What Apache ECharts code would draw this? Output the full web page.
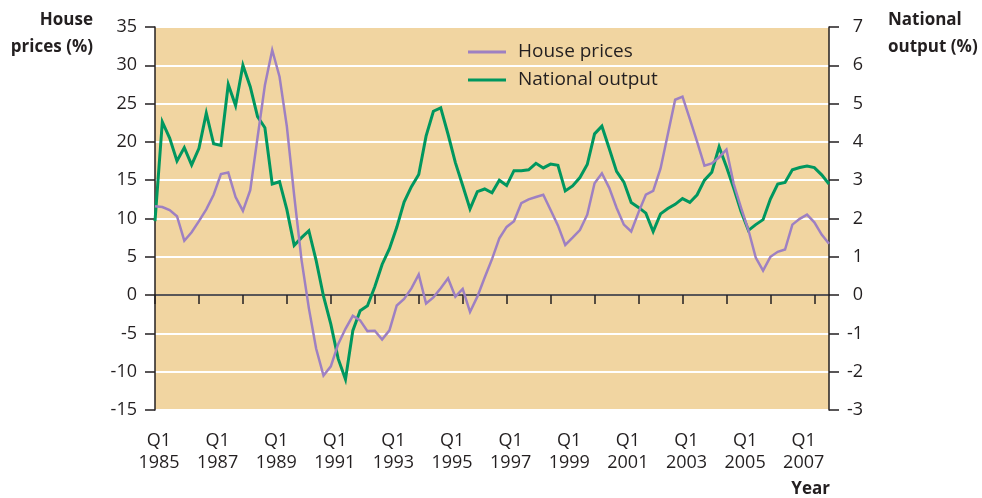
<!DOCTYPE html>
<html>
<head>
<meta charset="utf-8">
<title>House prices and national output</title>
<script src="https://cdn.jsdelivr.net/npm/echarts@6.0.0/dist/echarts.min.js"></script>
<style>
  html, body { margin: 0; padding: 0; background: #fff; }
  #main { width: 982px; height: 498px; }
</style>
</head>
<body>
<div id="main"></div>
<script>
// quarters Q1 1985 .. Q1 2008
var quarters = []
for (var y = 1985; y <= 2008; y++) {
  for (var q = 1; q <= 4; q++) {
    if (quarters.length < 93) quarters.push('Q' + q + ' ' + y)
  }
}

// annual % change, left axis
var housePrices = [
  11.6, 11.5, 11.1, 10.3, 7.1, 8.2, 9.65, 11.2, 13.1, 15.8,
  16.0, 12.8, 11.0, 13.7, 20.6, 27.4, 32.0, 28.5, 22.0, 13.0,
  4.6, -1.7, -7.0, -10.5, -9.3, -6.4, -4.4, -2.7, -3.3, -4.7,
  -4.65, -5.8, -4.6, -1.35, -0.5, 0.87, 2.7, -1.1, -0.3, 0.9,
  2.2, -0.2, 0.8, -2.2, -0.2, 2.3, 4.7, 7.4, 8.9, 9.65,
  12.0, 12.5, 12.8, 13.1, 11.1, 9.1, 6.55, 7.5, 8.5, 10.5,
  14.6, 15.9, 14.0, 11.4, 9.2, 8.3, 10.8, 13.1, 13.6, 16.5,
  21.0, 25.5, 25.9, 23.0, 20.0, 16.9, 17.2, 18.0, 19.0, 14.5,
  11.4, 8.5, 4.9, 3.2, 5.0, 5.65, 5.95, 9.2, 9.95, 10.5,
  9.5, 7.9, 6.7
]

// annual % change, right axis
var nationalOutput = [
  1.93, 4.52, 4.1, 3.5, 3.85, 3.4, 3.83, 4.75, 3.95, 3.91,
  5.5, 4.95, 6.0, 5.44, 4.66, 4.37, 2.9, 2.96, 2.23, 1.3,
  1.5, 1.68, 0.9, -0.03, -0.76, -1.66, -2.2, -0.93, -0.41, -0.28,
  0.22, 0.8, 1.21, 1.77, 2.43, 2.83, 3.15, 4.15, 4.8, 4.89,
  4.2, 3.46, 2.86, 2.25, 2.7, 2.77, 2.67, 3.0, 2.86, 3.25,
  3.25, 3.27, 3.44, 3.32, 3.42, 3.39, 2.72, 2.85, 3.07, 3.41,
  4.21, 4.41, 3.83, 3.23, 2.95, 2.42, 2.29, 2.14, 1.66, 2.12,
  2.26, 2.37, 2.52, 2.42, 2.62, 3.0, 3.21, 3.87, 3.35, 2.79,
  2.18, 1.69, 1.84, 1.97, 2.51, 2.9, 2.94, 3.27, 3.33, 3.37,
  3.33, 3.14, 2.9
]

var leftTicks = { min: -15, max: 35, step: 5 }
var rightTicks = { min: -3, max: 7, step: 1 }

var ink = '#231F20'
var font = '"Open Sans", "DejaVu Sans", sans-serif'

var myChart = echarts.init(document.getElementById('main'), null, { renderer: 'canvas' })

var option = {
  animation: false,
  textStyle: { fontFamily: font },
  grid: {
    left: 155,
    right: 153,
    top: 27,
    bottom: 88,
    containLabel: false,
    outerBoundsMode: 'none',
    show: true,
    backgroundColor: '#F1D5A1',
    borderWidth: 0
  },
  legend: {
    orient: 'vertical',
    left: 468,
    top: 41,
    padding: 0,
    icon: 'rect',
    itemWidth: 38,
    itemHeight: 3,
    itemGap: 6,
    data: ['House prices', 'National output'],
    textStyle: { fontSize: 19, lineHeight: 22, color: ink, fontFamily: font, padding: [0, 0, 0, 7] }
  },
  xAxis: [
    {
      // labels along the bottom
      type: 'category',
      data: quarters,
      boundaryGap: false,
      position: 'bottom',
      axisLine: { show: false, onZero: false },
      axisTick: { show: false },
      splitLine: { show: false },
      axisLabel: {
        interval: function (idx) { return idx % 8 === 0 },
        formatter: function (v) { return v.replace(' ', '\n') },
        margin: 20,
        fontSize: 18,
        lineHeight: 22,
        color: ink,
        padding: [0, 0, 0, 8]
      }
    },
    {
      // the line through zero with its ticks
      type: 'category',
      data: quarters,
      boundaryGap: false,
      position: 'bottom',
      axisLine: { show: true, onZero: true, onZeroAxisIndex: 0, lineStyle: { color: ink, width: 1.5 } },
      axisTick: { show: true, interval: 5, length: 9, lineStyle: { color: ink, width: 1.5 } },
      axisLabel: { show: false },
      splitLine: { show: false }
    }
  ],
  yAxis: [
    {
      type: 'value',
      min: leftTicks.min,
      max: leftTicks.max,
      interval: leftTicks.step,
      position: 'left',
      axisLine: { show: true, onZero: false, lineStyle: { color: ink, width: 1.5 } },
      axisTick: { show: true, length: 10, lineStyle: { color: ink, width: 1.5 } },
      axisLabel: { margin: 18, fontSize: 18, color: ink },
      splitLine: { show: true, lineStyle: { color: '#ffffff', width: 2 } }
    },
    {
      type: 'value',
      min: rightTicks.min,
      max: rightTicks.max,
      interval: rightTicks.step,
      position: 'right',
      axisLine: { show: true, onZero: false, lineStyle: { color: ink, width: 1.5 } },
      axisTick: { show: true, length: 10, lineStyle: { color: ink, width: 1.5 } },
      axisLabel: { margin: 34, align: 'right', fontSize: 18, color: ink },
      splitLine: { show: false }
    }
  ],
  series: [
    {
      name: 'National output',
      type: 'line',
      xAxisIndex: 0,
      yAxisIndex: 1,
      data: nationalOutput,
      symbol: 'none',
      lineStyle: { color: '#00975F', width: 3, join: 'miter' },
      itemStyle: { color: '#00975F' }
    },
    {
      name: 'House prices',
      type: 'line',
      xAxisIndex: 0,
      yAxisIndex: 0,
      data: housePrices,
      symbol: 'none',
      lineStyle: { color: '#9E80C2', width: 2.5, join: 'miter' },
      itemStyle: { color: '#9E80C2' }
    }
  ],
  graphic: [
    {
      type: 'text',
      x: 93,
      y: 7,
      style: {
        text: 'House\nprices (%)',
        align: 'right',
        verticalAlign: 'top',
        font: 'bold 17px ' + font,
        lineHeight: 27,
        fill: ink
      }
    },
    {
      type: 'text',
      x: 888,
      y: 7,
      style: {
        text: 'National\noutput (%)',
        align: 'left',
        verticalAlign: 'top',
        font: 'bold 17px ' + font,
        lineHeight: 27,
        fill: ink
      }
    },
    {
      type: 'text',
      x: 830,
      y: 489,
      style: {
        text: 'Year',
        align: 'right',
        verticalAlign: 'middle',
        font: 'bold 17px ' + font,
        fill: ink
      }
    }
  ]
}

myChart.setOption(option)
window.addEventListener('resize', function () {
  myChart.resize()
})
</script>
</body>
</html>
